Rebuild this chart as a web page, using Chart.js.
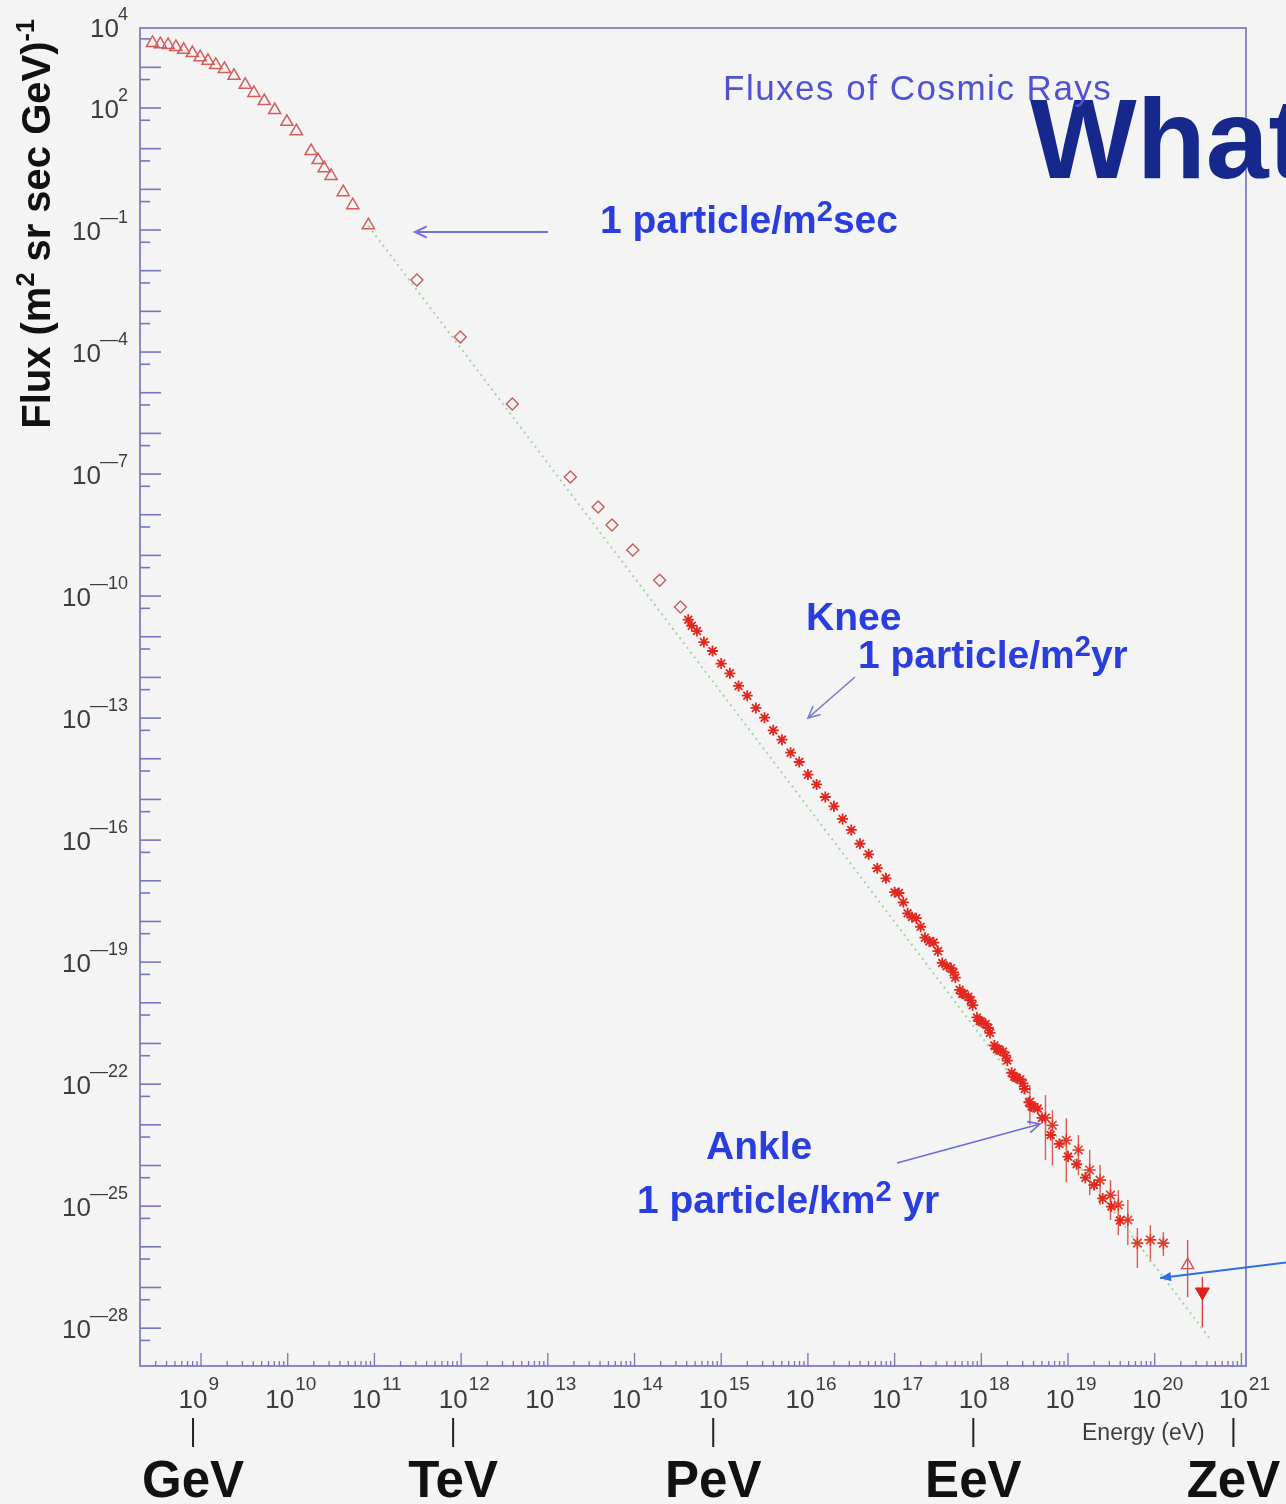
<!DOCTYPE html>
<html>
<head>
<meta charset="utf-8">
<script src="https://cdn.jsdelivr.net/npm/chart.js@4.4.1/dist/chart.umd.min.js"></script>
<style>
  html, body { margin: 0; padding: 0; background: #f4f4f4; }
  #wrap { position: relative; width: 1286px; height: 1504px; }
</style>
</head>
<body>
<div id="wrap"><canvas id="fluxChart"></canvas></div>
<script>
// values are log10(energy / eV) and log10(flux)

// direct measurements (open triangles)
const triLogE = [8.44, 8.53, 8.62, 8.71, 8.80, 8.90, 8.99, 9.08, 9.17, 9.27, 9.38, 9.51, 9.61, 9.73, 9.85, 9.99, 10.10, 10.27, 10.35, 10.42, 10.50, 10.64, 10.75, 10.93];
const triLogF = [3.60, 3.57, 3.55, 3.50, 3.43, 3.35, 3.25, 3.16, 3.06, 2.96, 2.79, 2.57, 2.37, 2.17, 1.95, 1.66, 1.43, 0.94, 0.72, 0.52, 0.33, -0.07, -0.39, -0.88];

// open diamonds
const dmdLogE = [11.49, 11.99, 12.59, 13.26, 13.58, 13.74, 13.98, 14.29, 14.53];
const dmdLogF = [-2.23, -3.63, -5.28, -7.07, -7.81, -8.25, -8.87, -9.61, -10.27];

// air shower band (crosses)
const crsLogE = [14.62, 14.66, 14.72, 14.80, 14.90, 15.00, 15.10, 15.20, 15.30, 15.40, 15.50, 15.60, 15.70, 15.80, 15.90, 16.00, 16.10, 16.20, 16.30, 16.40, 16.50, 16.60, 16.70, 16.80, 16.90, 17.00, 17.10, 17.20, 17.30, 17.40, 17.50, 17.60, 17.70, 17.80, 17.90, 18.00, 18.10, 18.20, 18.30, 18.40, 18.50, 18.60, 18.70, 18.80, 18.90, 19.00, 19.10, 19.20, 19.30, 19.40, 19.50, 19.60];
const crsLogF = [-10.58, -10.73, -10.86, -11.13, -11.35, -11.66, -11.90, -12.21, -12.45, -12.75, -12.99, -13.30, -13.53, -13.85, -14.08, -14.39, -14.63, -14.94, -15.17, -15.48, -15.75, -16.09, -16.35, -16.69, -16.94, -17.28, -17.53, -17.89, -18.13, -18.49, -18.73, -19.10, -19.38, -19.78, -20.06, -20.46, -20.74, -21.14, -21.42, -21.84, -22.12, -22.56, -22.83, -23.25, -23.47, -23.78, -23.97, -24.30, -24.48, -24.81, -25.01, -25.35];
const crsBLogE = [17.05, 17.15, 17.25, 17.35, 17.45, 17.55, 17.65, 17.75, 17.85, 17.95, 18.05, 18.15, 18.25, 18.35, 18.45, 18.55, 18.65];
const crsBLogF = [-17.30, -17.80, -17.92, -18.40, -18.52, -19.02, -19.15, -19.68, -19.85, -20.36, -20.52, -21.05, -21.20, -21.72, -21.88, -22.45, -22.60];
const crsCLogE = [17.68, 17.78, 17.88, 17.98, 18.08, 18.18, 18.28, 18.38, 18.48, 18.58];
const crsCLogF = [-19.25, -19.78, -19.94, -20.45, -20.62, -21.14, -21.30, -21.82, -21.98, -22.55];

// highest energies, with error bars
const hiLogE  = [18.56, 18.74, 18.82, 18.98, 19.12, 19.25, 19.37, 19.49, 19.58, 19.69, 19.80, 19.95, 20.10];
const hiLogF  = [-22.44, -22.83, -23.01, -23.38, -23.62, -24.11, -24.36, -24.73, -24.97, -25.34, -25.91, -25.83, -25.91];
const hiLogLo = [-23.00, -23.87, -24.00, -24.41, -24.24, -24.73, -24.97, -25.34, -25.71, -25.96, -26.52, -26.37, -26.23];
const hiLogHi = [-22.02, -22.27, -22.64, -22.84, -23.25, -23.62, -23.99, -24.36, -24.60, -24.85, -25.54, -25.47, -25.64];

const agLogE = [20.38], agLogF = [-26.45], agLogLo = [-27.24], agLogHi = [-25.83];
const ulLogE = [20.55], ulLogF = [-27.11], ulLogLo = [-27.97], ulLogHi = [-26.74];

// power-law fit (green dotted)
const fitLogE = [10.93, 20.64];
const fitLogF = [-0.90, -28.27];

// axis labels
const yLabelExp = [4, 2, -1, -4, -7, -10, -13, -16, -19, -22, -25, -28];
const xLabelExp = [9, 10, 11, 12, 13, 14, 15, 16, 17, 18, 19, 20, 21];
const unitNames = ['GeV', 'TeV', 'PeV', 'EeV', 'ZeV'];
const unitExp = [9, 12, 15, 18, 21];

const toPts = (le, lf) => le.map((e, i) => ({ x: 10 ** e, y: 10 ** lf[i] }));
const toErrPts = (le, lf, lo, hi) => le.map((e, i) => ({ x: 10 ** e, y: 10 ** lf[i], lo: 10 ** lo[i], hi: 10 ** hi[i] }));

const FONT = '"Liberation Sans", Arial, sans-serif';

// text with superscript pieces: parts = [[text, isSup], ...]
function richWidth(ctx, parts, size, weight, supScale) {
  let w = 0;
  parts.forEach(([t, sup]) => {
    ctx.font = `${weight} ${sup ? Math.round(size * supScale) : size}px ${FONT}`;
    w += ctx.measureText(t).width;
  });
  return w;
}
function richText(ctx, parts, x, y, size, weight, align, supScale = 0.62, rise = 0.4) {
  let cx = x;
  if (align === 'center') cx = x - richWidth(ctx, parts, size, weight, supScale) / 2;
  ctx.textAlign = 'left';
  parts.forEach(([t, sup]) => {
    ctx.font = `${weight} ${sup ? Math.round(size * supScale) : size}px ${FONT}`;
    ctx.fillText(t, cx, sup ? y - size * rise : y);
    cx += ctx.measureText(t).width;
  });
}

function arrow(ctx, x1, y1, x2, y2, color, width, filled) {
  const a = Math.atan2(y2 - y1, x2 - x1);
  const L = filled ? 12 : 13, spread = filled ? 0.4 : 0.45;
  ctx.save();
  ctx.strokeStyle = color; ctx.fillStyle = color; ctx.lineWidth = width;
  ctx.beginPath(); ctx.moveTo(x1, y1); ctx.lineTo(x2, y2); ctx.stroke();
  ctx.beginPath();
  ctx.moveTo(x2 - L * Math.cos(a - spread), y2 - L * Math.sin(a - spread));
  ctx.lineTo(x2, y2);
  ctx.lineTo(x2 - L * Math.cos(a + spread), y2 - L * Math.sin(a + spread));
  if (filled) { ctx.closePath(); ctx.fill(); } else ctx.stroke();
  ctx.restore();
}

const background = {
  id: 'background',
  beforeDraw(chart) {
    const { ctx, width, height } = chart;
    ctx.save();
    ctx.fillStyle = '#f4f4f4';
    ctx.fillRect(0, 0, width, height);
    ctx.restore();
  }
};

const errorBars = {
  id: 'errorBars',
  beforeDatasetsDraw(chart) {
    const { ctx, chartArea: ca, scales: { y } } = chart;
    ctx.save();
    ctx.beginPath(); ctx.rect(ca.left, ca.top, ca.right - ca.left, ca.bottom - ca.top); ctx.clip();
    chart.data.datasets.forEach((ds, di) => {
      if (!ds.errorColor) return;
      const meta = chart.getDatasetMeta(di);
      ctx.strokeStyle = ds.errorColor;
      ctx.lineWidth = 1.4;
      meta.data.forEach((pt, i) => {
        const d = ds.data[i];
        ctx.beginPath();
        ctx.moveTo(pt.x, y.getPixelForValue(d.hi));
        ctx.lineTo(pt.x, y.getPixelForValue(d.lo));
        ctx.stroke();
      });
    });
    ctx.restore();
  }
};

const axisDecor = {
  id: 'axisDecor',
  afterDraw(chart) {
    const { ctx, chartArea: ca, scales: { x, y } } = chart;
    ctx.save();
    // frame
    ctx.strokeStyle = '#8a8acb';
    ctx.lineWidth = 2;
    ctx.strokeRect(ca.left, ca.top, ca.right - ca.left, ca.bottom - ca.top);

    // y ticks: decades long, 5x10^n short
    ctx.strokeStyle = '#7474c0';
    ctx.lineWidth = 1.6;
    for (let n = -30; n <= 5; n++) {
      [[10 ** n, 21], [5 * 10 ** (n - 1), 10]].forEach(([v, len]) => {
        const py = y.getPixelForValue(v);
        if (py < ca.top + 1 || py > ca.bottom - 1) return;
        ctx.beginPath(); ctx.moveTo(ca.left, py); ctx.lineTo(ca.left + len, py); ctx.stroke();
      });
    }
    // x ticks: decades long, 2..9 short
    ctx.lineWidth = 1.3;
    for (let n = 8; n <= 21; n++) {
      for (let m = 1; m <= 9; m++) {
        const px = x.getPixelForValue(m * 10 ** n);
        if (px < ca.left + 1 || px > ca.right + 1) continue;
        const len = m === 1 ? 13 : 5;
        ctx.beginPath(); ctx.moveTo(px, ca.bottom); ctx.lineTo(px, ca.bottom - len); ctx.stroke();
      }
    }

    // y tick labels
    ctx.fillStyle = '#3c3c3c';
    ctx.textBaseline = 'alphabetic';
    yLabelExp.forEach(e => {
      const py = y.getPixelForValue(10 ** e);
      const expStr = e < 0 ? '\u2014' + Math.abs(e) : String(e);
      ctx.font = `18px ${FONT}`;
      ctx.textAlign = 'right';
      const ew = ctx.measureText(expStr).width;
      ctx.fillText(expStr, 128, py - 7);
      ctx.font = `26px ${FONT}`;
      ctx.fillText('10', 129 - ew, py + 10);
    });
    // x tick labels
    xLabelExp.forEach(e => {
      const px = x.getPixelForValue(10 ** e) - 8;
      ctx.font = `26px ${FONT}`;
      ctx.textAlign = 'center';
      const w10 = ctx.measureText('10').width;
      ctx.fillText('10', px, 1408);
      ctx.font = `19px ${FONT}`;
      ctx.textAlign = 'left';
      ctx.fillText(String(e), px + w10 / 2 + 1, 1390);
    });
    ctx.font = `23px ${FONT}`;
    ctx.textAlign = 'left';
    ctx.fillText('Energy (eV)', 1082, 1440);

    // unit markers
    ctx.fillStyle = '#111';
    ctx.strokeStyle = '#222';
    ctx.lineWidth = 2;
    unitExp.forEach((e, i) => {
      const px = x.getPixelForValue(10 ** e) - 8;
      ctx.beginPath(); ctx.moveTo(px, 1418); ctx.lineTo(px, 1447); ctx.stroke();
      ctx.font = `bold 51px ${FONT}`;
      ctx.textAlign = 'center';
      ctx.fillText(unitNames[i], px, 1497);
    });

    // y axis title
    ctx.save();
    ctx.translate(50, 224);
    ctx.rotate(-Math.PI / 2);
    ctx.fillStyle = '#111';
    richText(ctx, [['Flux (m', false], ['2', true], [' sr sec GeV)', false], ['-1', true]], 0, 0, 40, 'bold', 'center');
    ctx.restore();

    // title-ish overlays
    ctx.fillStyle = '#17288c';
    ctx.font = `bold 113px ${FONT}`;
    ctx.textAlign = 'left';
    ctx.fillText('What', 1030, 178);
    ctx.fillStyle = '#5151d6';
    ctx.font = `35px ${FONT}`;
    ctx.letterSpacing = '1.5px';
    ctx.fillText('Fluxes of Cosmic Rays', 723, 100);
    ctx.letterSpacing = '0px';

    // annotations
    const blue = '#2a3ee0';
    ctx.fillStyle = blue;
    richText(ctx, [['1 particle/m', false], ['2', true], ['sec', false]], 600, 233, 39, 'bold', 'left', 0.75, 0.3);
    arrow(ctx, 548, 232, 415, 232, '#7373dc', 2, false);

    ctx.fillStyle = blue;
    ctx.font = `bold 39px ${FONT}`;
    ctx.fillText('Knee', 806, 630);
    richText(ctx, [['1 particle/m', false], ['2', true], ['yr', false]], 858, 668, 39, 'bold', 'left', 0.75, 0.3);
    arrow(ctx, 855, 677, 808, 718, '#7a7ad2', 1.6, false);

    ctx.fillStyle = blue;
    ctx.font = `bold 39px ${FONT}`;
    ctx.fillText('Ankle', 706, 1159);
    richText(ctx, [['1 particle/km', false], ['2', true], [' yr', false]], 637, 1213, 39, 'bold', 'left', 0.75, 0.3);
    arrow(ctx, 897, 1163, 1040, 1124, '#6a6ae0', 1.6, false);

    arrow(ctx, 1290, 1262, 1160, 1278, '#2a70e0', 2.2, true);
    ctx.restore();
  }
};

new Chart(document.getElementById('fluxChart'), {
  type: 'scatter',
  data: {
    datasets: [
      {
        label: 'fit',
        type: 'line',
        data: toPts(fitLogE, fitLogF),
        borderColor: '#9fd69f',
        borderWidth: 2,
        borderDash: [2, 4],
        pointRadius: 0,
        order: 10
      },
      {
        label: 'direct',
        data: toPts(triLogE, triLogF),
        pointStyle: 'triangle',
        radius: 7,
        borderColor: '#d65c5c',
        backgroundColor: 'rgba(0,0,0,0)',
        borderWidth: 1.5
      },
      {
        label: 'diamonds',
        data: toPts(dmdLogE, dmdLogF),
        pointStyle: 'rectRot',
        radius: 6,
        borderColor: '#cc5a5a',
        backgroundColor: 'rgba(0,0,0,0)',
        borderWidth: 1.4
      },
      {
        label: 'air showers',
        data: toPts(crsLogE, crsLogF),
        pointStyle: 'star',
        radius: 5.5,
        borderColor: '#e2271e',
        borderWidth: 1.8
      },
      {
        label: 'air showers B',
        data: toPts(crsBLogE, crsBLogF),
        pointStyle: 'star',
        radius: 5.5,
        borderColor: '#e2271e',
        borderWidth: 1.8
      },
      {
        label: 'air showers C',
        data: toPts(crsCLogE, crsCLogF),
        pointStyle: 'star',
        radius: 5.5,
        borderColor: '#e2271e',
        borderWidth: 1.8
      },
      {
        label: 'highest',
        data: toErrPts(hiLogE, hiLogF, hiLogLo, hiLogHi),
        pointStyle: 'star',
        radius: 6,
        borderColor: '#e23a2a',
        borderWidth: 1.6,
        errorColor: '#e05a50'
      },
      {
        label: 'agasa',
        data: toErrPts(agLogE, agLogF, agLogLo, agLogHi),
        pointStyle: 'triangle',
        radius: 7,
        borderColor: '#d85050',
        backgroundColor: 'rgba(0,0,0,0)',
        borderWidth: 1.4,
        errorColor: '#d85050'
      },
      {
        label: 'limit',
        data: toErrPts(ulLogE, ulLogF, ulLogLo, ulLogHi),
        pointStyle: 'triangle',
        rotation: 180,
        radius: 8,
        borderColor: '#e0201a',
        backgroundColor: '#e0201a',
        borderWidth: 1,
        errorColor: '#d84040'
      }
    ]
  },
  options: {
    responsive: true,
    maintainAspectRatio: false,
    animation: false,
    devicePixelRatio: 1,
    layout: { padding: { left: 140, top: 28, right: 40, bottom: 138 } },
    plugins: {
      legend: { display: false },
      tooltip: { enabled: false }
    },
    scales: {
      x: { type: 'logarithmic', display: false, min: 10 ** 8.296, max: 10 ** 21.053 },
      y: { type: 'logarithmic', display: false, min: 10 ** -28.93, max: 10 ** 3.967 }
    }
  },
  plugins: [background, errorBars, axisDecor]
});
</script>
</body>
</html>
